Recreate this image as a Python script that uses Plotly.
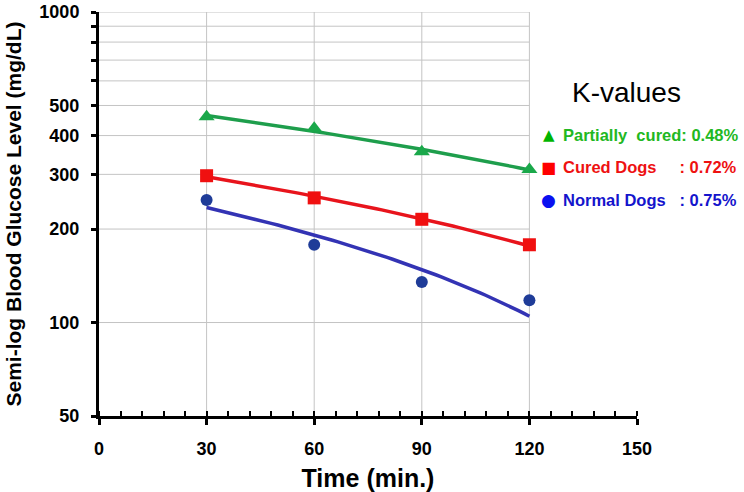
import numpy as np
import plotly.graph_objects as go

# ---- data ----
time_min = [30, 60, 90, 120]
partially_cured = [460, 422, 355, 311]
cured_dogs = [297, 252, 215, 178]
normal_dogs = [248, 178, 135, 118]

legend_labels = [
    "Partially\u00a0\u00a0cured: 0.48%",
    "Cured Dogs\u00a0\u00a0\u00a0\u00a0\u00a0: 0.72%",
    "Normal Dogs\u00a0\u00a0\u00a0: 0.75%",
]
legend_glyphs = ["\u25B2", "\u25A0", "\u25CF"]
legend_title = "K-values"

x_tickvals = [0, 30, 60, 90, 120, 150]
y_tickvals = [50, 100, 200, 300, 400, 500, 600, 700, 800, 900, 1000]
y_ticktext = ["50", "100", "200", "300", "400", "500", "", "", "", "", "1000"]
grid_y = [100, 200, 300, 400, 500, 600, 700, 800, 900, 1000]
grid_x = [30, 60, 90, 120]

FONT = "Arial, 'Liberation Sans', sans-serif"

series = [
    dict(vals=partially_cured, line="#1e9e4c", mk="#1aa84a", sym="triangle-up", size=14,
         leg_mk="#00b400", leg_txt="#22b822", gsize=15),
    dict(vals=cured_dogs, line="#e8141c", mk="#f01010", sym="square", size=13,
         leg_mk="#ff0000", leg_txt="#ee1111", gsize=16),
    dict(vals=normal_dogs, line="#3333b4", mk="#1f3c98", sym="circle", size=12,
         leg_mk="#0a10f0", leg_txt="#1414cc", gsize=17),
]

fig = go.Figure()

# gridlines (only span 0..120 in the reference)
gx, gy = [], []
for v in grid_y:
    gx += [0, max(grid_x), None]
    gy += [v, v, None]
for v in grid_x:
    gx += [v, v, None]
    gy += [min(y_tickvals), max(y_tickvals), None]
fig.add_trace(go.Scatter(x=gx, y=gy, mode="lines", line=dict(color="#c4c4c4", width=1),
                         hoverinfo="skip", showlegend=False))

t = np.array(time_min, dtype=float)
tt = np.linspace(t.min(), t.max(), 60)
for s, lab in zip(series, legend_labels):
    # linear trend line (drawn on the log axis -> slight curvature)
    coef = np.polyfit(t, np.array(s["vals"], dtype=float), 1)
    fig.add_trace(go.Scatter(x=tt, y=np.polyval(coef, tt), mode="lines",
                             line=dict(color=s["line"], width=3.5), showlegend=False,
                             hoverinfo="skip"))
    fig.add_trace(go.Scatter(x=time_min, y=s["vals"], mode="markers", name=lab,
                             marker=dict(symbol=s["sym"], size=s["size"], color=s["mk"]),
                             showlegend=False))

# "K-values" key drawn as text
fig.add_annotation(text=legend_title, xref="paper", yref="paper", x=0.98, y=0.80,
                   xanchor="center", yanchor="middle", showarrow=False,
                   font=dict(family=FONT, size=28, color="black"))
key_y = [0.6955, 0.6163, 0.5347]
for s, lab, g, ky in zip(series, legend_labels, legend_glyphs, key_y):
    fig.add_annotation(text=g, xref="paper", yref="paper", x=0.8364, y=ky,
                       xanchor="center", yanchor="middle", showarrow=False,
                       font=dict(family="DejaVu Sans", size=s["gsize"], color=s["leg_mk"]))
    fig.add_annotation(text=f"<b>{lab}</b>", xref="paper", yref="paper", x=0.8588, y=ky,
                       xanchor="left", yanchor="middle", showarrow=False,
                       font=dict(family=FONT, size=16.5, color=s["leg_txt"]))

fig.update_layout(
    width=744, height=492,
    margin=dict(l=99, r=107, t=12, b=76),
    paper_bgcolor="white", plot_bgcolor="white",
    font=dict(family=FONT, color="black"),
    showlegend=False,
    xaxis=dict(range=[0, 150], tickvals=x_tickvals, showgrid=False, zeroline=False,
               automargin=False,
               showline=True, linecolor="black", linewidth=3,
               ticks="outside", ticklen=6, tickwidth=2.5, tickcolor="black",
               ticklabelstandoff=8,
               minor=dict(dtick=6, ticks="inside", ticklen=5, tickwidth=2, tickcolor="black"),
               tickfont=dict(size=18, weight="bold"),
               title=dict(text="Time (min.)", font=dict(size=25, weight="bold"), standoff=17)),
    yaxis=dict(type="log", range=[np.log10(50), np.log10(1000)],
               tickvals=y_tickvals, ticktext=y_ticktext, showgrid=False, zeroline=False,
               automargin=False,
               showline=True, linecolor="black", linewidth=3,
               ticks="outside", ticklen=5, tickwidth=2.5, tickcolor="black",
               ticklabelstandoff=8,
               tickfont=dict(size=18, weight="bold"),
               title=dict(text="Semi-log Blood Glucose Level (mg/dL)",
                          font=dict(size=21, weight="bold"), standoff=13)),
)

fig.write_html("out.html", config={"displayModeBar": False},
               post_script="document.body.style.margin='0';")
